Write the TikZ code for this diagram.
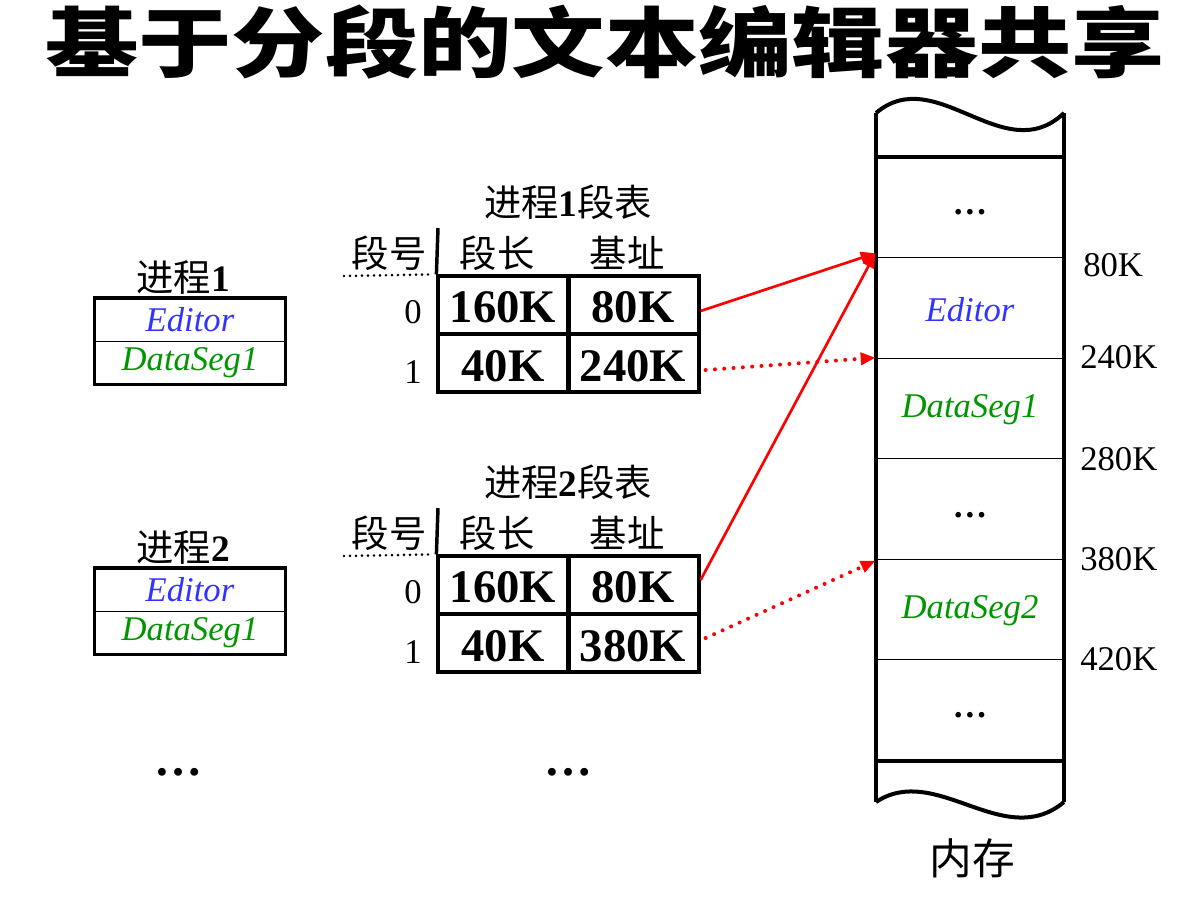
\documentclass[tikz,border=0pt]{standalone}
\usepackage{fontspec}
\setmainfont{Liberation Serif}
\newfontfamily\cjk{Noto Sans CJK SC}
\usetikzlibrary{arrows.meta,calc}
\definecolor{edblue}{RGB}{51,51,255}
\definecolor{dsgreen}{RGB}{0,150,0}
\begin{document}
\begin{tikzpicture}[x=0.75pt,y=-0.75pt,
  txt/.style={inner sep=0pt},
  cjkt/.style={txt,font=\cjk\fontsize{28}{30}\selectfont},
  mixt/.style={txt,font=\fontsize{28}{30}\selectfont},
  num/.style={txt,font=\bfseries\fontsize{35}{36}\selectfont},
  lbl/.style={txt,font=\fontsize{26}{28}\selectfont},
  edit/.style={txt,font=\itshape\fontsize{26}{28}\selectfont,text=edblue},
  dseg/.style={txt,font=\itshape\fontsize{26}{28}\selectfont,text=dsgreen},
  cell/.style={draw,line width=2.4pt,minimum width=97.5pt,minimum height=43.5pt,inner sep=0pt},
  pcell/.style={draw,line width=1pt,minimum width=142.5pt,minimum height=32pt,inner sep=0pt},
  pbox/.style={line width=2.6pt},
  mcell/.style={draw,line width=0.9pt,minimum width=141pt,minimum height=75.3pt,inner sep=0pt},
  mthick/.style={line width=3pt},
  solidarr/.style={red,line width=2pt,-{Triangle[length=11pt,width=9pt]}},
  dotarr/.style={red,line width=3pt,line cap=round,dash pattern=on 0pt off 7pt,-{Triangle[length=11pt,width=9pt]}},
  dotline/.style={line width=2.2pt,line cap=round,dash pattern=on 0pt off 4.5pt},
  dots/.style={txt,font=\bfseries\fontsize{26}{28}\selectfont},
  bigdots/.style={txt,font=\bfseries\fontsize{36}{38}\selectfont}
]
\useasboundingbox (0,0) rectangle (1187,897);

% title
\node[txt] (title) at (605,42) {\scalebox{1}[0.82]{\cjk\bfseries\fontsize{70}{70}\selectfont 基于分段的文本编辑器共享}};

% process 1
\node[mixt] (p1lbl) at (183,278) {{\cjk 进程}\textbf{1}};
\node[pcell] (p1e) at (190,320) {};
\node[pcell] (p1d) at (190,362.5) {};
\node[edit] at (p1e) {Editor};
\node[dseg] at (p1d) {DataSeg1};
\draw[pbox] (p1e.north west) rectangle (p1d.south east);

% process 2
\node[mixt] (p2lbl) at (183,548) {{\cjk 进程}\textbf{2}};
\node[pcell] (p2e) at (190,590) {};
\node[pcell] (p2d) at (190,632.5) {};
\node[edit] at (p2e) {Editor};
\node[dseg] at (p2d) {DataSeg1};
\draw[pbox] (p2e.north west) rectangle (p2d.south east);

\node[bigdots] (pdots) at (178,772) {\ldots};
\node[bigdots] (tdots) at (568,772) {\ldots};

% segment table 1
\node[mixt] (t1title) at (568,202) {{\cjk 进程}\textbf{1}{\cjk 段表}};
\node[cjkt] (t1h0) at (389,253) {段号};
\node[cjkt] (t1h1) at (497,253) {段长};
\node[cjkt] (t1h2) at (627,253) {基址};
\node[cell] (t1a) at (503,305) {};
\node[cell] (t1b) at (634,305) {};
\node[cell] (t1c) at (503,363) {};
\node[cell] (t1d) at (634,363) {};
\node[num] at (503,307) {160K};
\node[num] at (633,307) {80K};
\node[num] at (503,366) {40K};
\node[num] at (633,366) {240K};
\node[lbl] (t1r0) at (413,312) {0};
\node[lbl] (t1r1) at (413,372) {1};
\coordinate (t1vtop) at (438,228);
\draw[line width=2.6pt] (t1vtop) -- (t1a.north west);
\coordinate (t1dl) at (344,276);
\draw[dotline] (t1dl) -- ($(t1a.north west)+(-4,0)$);

% segment table 2
\node[mixt] (t2title) at (568,482) {{\cjk 进程}\textbf{2}{\cjk 段表}};
\node[cjkt] (t2h0) at (389,533) {段号};
\node[cjkt] (t2h1) at (497,533) {段长};
\node[cjkt] (t2h2) at (627,533) {基址};
\node[cell] (t2a) at (503,585) {};
\node[cell] (t2b) at (634,585) {};
\node[cell] (t2c) at (503,643) {};
\node[cell] (t2d) at (634,643) {};
\node[num] at (503,587) {160K};
\node[num] at (633,587) {80K};
\node[num] at (503,646) {40K};
\node[num] at (633,646) {380K};
\node[lbl] (t2r0) at (413,592) {0};
\node[lbl] (t2r1) at (413,652) {1};
\coordinate (t2vtop) at (438,508);
\draw[line width=2.6pt] (t2vtop) -- (t2a.north west);
\coordinate (t2dl) at (344,556);
\draw[dotline] (t2dl) -- ($(t2a.north west)+(-4,0)$);

% memory
\node[mcell] (m0) at (970,207.5) {};
\node[mcell] (m1) at (970,308) {};
\node[mcell] (m2) at (970,408.5) {};
\node[mcell] (m3) at (970,509) {};
\node[mcell] (m4) at (970,609.5) {};
\node[mcell] (m5) at (970,710) {};
\node[dots] at (970,212) {\ldots};
\node[edit] at (970,310) {Editor};
\node[dseg] at (970,410) {DataSeg1};
\node[dots] at (970,515) {\ldots};
\node[dseg] at (970,611) {DataSeg2};
\node[dots] at (970,715) {\ldots};
\draw[mthick] (m0.north west) -- (m0.north east);
\draw[mthick] (m5.south west) -- (m5.south east);
\coordinate (mtl) at (876,113);
\coordinate (mtr) at (1064,113);
\coordinate (mbl) at (876,802);
\coordinate (mbr) at (1064,802);
\draw[mthick] (mtl) -- (mbl);
\draw[mthick] (mtr) -- (mbr);
\draw[mthick] (mtl) .. controls (936,62) and (1004,170) .. (mtr);
\draw[mthick] (mbl) .. controls (936,762) and (1004,852) .. (mbr);
\node[cjkt,font=\cjk\fontsize{32}{34}\selectfont] (mem) at (972,858) {内存};

\node[lbl,anchor=west] (a80) at (1083,265) {80K};
\node[lbl,anchor=west] (a240) at (1080,357) {240K};
\node[lbl,anchor=west] (a280) at (1080,459) {280K};
\node[lbl,anchor=west] (a380) at (1080,559) {380K};
\node[lbl,anchor=west] (a420) at (1080,659) {420K};

% connectors
\draw[solidarr] ($(t1b.east)+(0,6)$) -- ($(m1.north west)+(0,-4)$);
\draw[dotarr] ($(t1d.east)+(5,7)$) -- (m2.north west);
\draw[solidarr] ($(t2b.east)+(0,-5)$) -- ($(m1.north west)+(0,-4)$);
\draw[dotarr] ($(t2d.east)+(5,-5)$) -- ($(m4.north west)+(0,2)$);
\end{tikzpicture}
\end{document}
